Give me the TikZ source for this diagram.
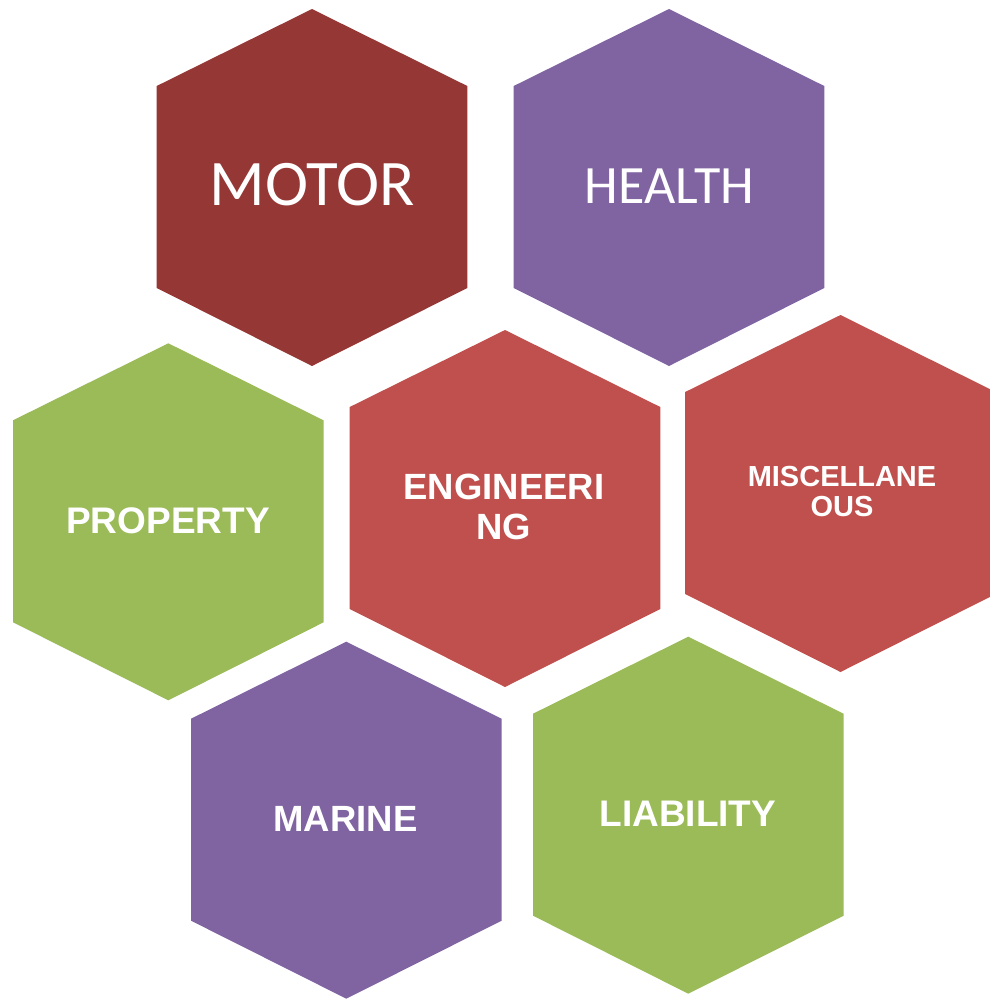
\documentclass[tikz,border=0pt]{standalone}
\usepackage{fontspec}
\setmainfont{Liberation Sans}
\newfontfamily\calibrifont{Carlito}

\definecolor{motorred}{HTML}{953735}
\definecolor{lilac}{HTML}{8064A2}
\definecolor{leaf}{HTML}{9BBB59}
\definecolor{brick}{HTML}{C0504D}

\tikzset{
  hexlabel/.style={text=white, inner sep=0pt, anchor=base, align=center},
  bigword/.style={hexlabel, font=\calibrifont\fontsize{#1}{#1}\selectfont},
  boldword/.style={hexlabel, font=\bfseries\fontsize{#1}{#1}\selectfont},
}

% filled hexagon with a pointed top: #1 centre x, #2 top y, #3 colour
\newcommand\hexcell[3]{%
  \fill[#3] (#1,#2) -- ++(155.3,77) -- ++(0,202) -- ++(-155.3,78)
            -- ++(-155.3,-78) -- ++(0,-202) -- cycle;}

\begin{document}
\begin{tikzpicture}[x=1pt,y=-1pt]
  \useasboundingbox (0,0) rectangle (990,999);
  \clip (0,0) rectangle (990,999);

  \hexcell{312}{9}{motorred}
  \hexcell{669}{9}{lilac}
  \hexcell{168.3}{343.3}{leaf}
  \hexcell{505}{330}{brick}
  \hexcell{840.5}{315}{brick}
  \hexcell{346.3}{641.7}{lilac}
  \hexcell{688.3}{636.7}{leaf}

  \node[bigword=65] (motor) at (312.5,205.7) {MOTOR};
  \node[bigword=54] (health) at (669.3,203) {HEALTH};
  \node[boldword=37] (property) at (168,533.3) {PROPERTY};
  \node[boldword=36.5] (engineering) at (504,499.5)
    {\fontsize{36.5}{39.5}\selectfont\begin{tabular}[t]{@{}c@{}}ENGINEERI\\NG\end{tabular}};
  \node[boldword=29] (misc) at (842,486.7)
    {\fontsize{29}{30}\selectfont\begin{tabular}[t]{@{}c@{}}MISCELLANE\\OUS\end{tabular}};
  \node[boldword=36.5] (marine) at (345.5,831.7) {MARINE};
  \node[boldword=37] (liability) at (687.8,826.7) {LIABILITY};
\end{tikzpicture}
\end{document}
